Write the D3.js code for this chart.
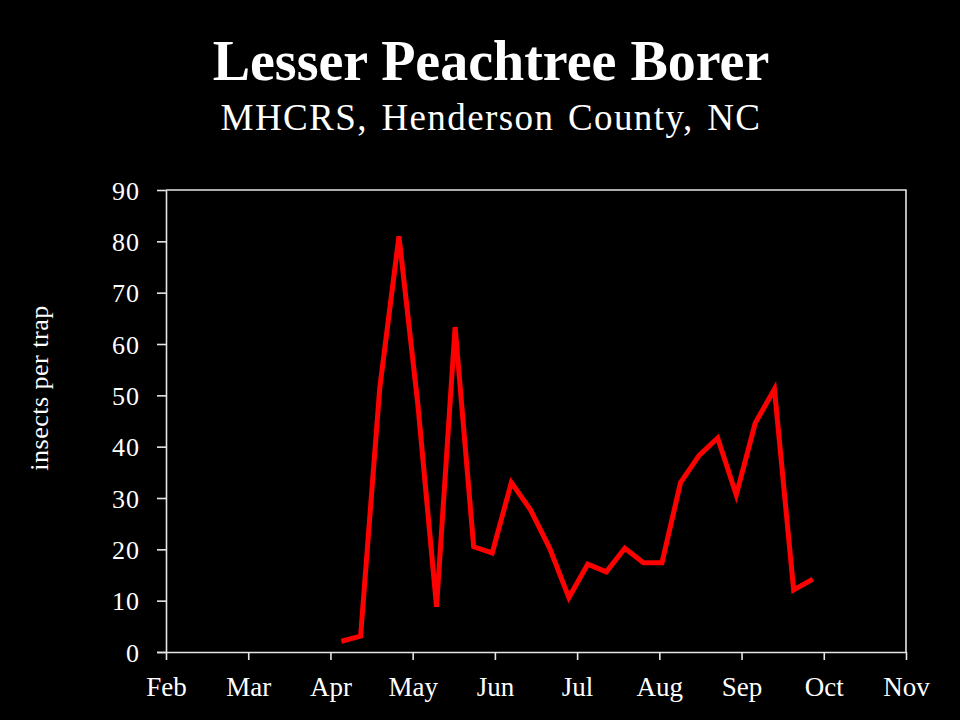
<!DOCTYPE html>
<html><head><meta charset="utf-8">
<script src="https://cdn.jsdelivr.net/npm/d3@7"></script>
<style>
html,body{margin:0;padding:0;background:#000;}
svg{display:block;}
text{font-family:"Liberation Serif","DejaVu Serif",serif;fill:#fff;}
</style></head>
<body>
<script>
const months = ["Feb","Mar","Apr","May","Jun","Jul","Aug","Sep","Oct","Nov"];
const dates = ["04-05","04-12","04-19","04-26","05-03","05-10","05-17","05-24","05-31",
  "06-07","06-14","06-21","06-28","07-05","07-12","07-19","07-26","08-02","08-09",
  "08-16","08-23","08-30","09-06","09-13","09-20","09-27"];
const values = [2.1,3.1,51.5,81,48,8.8,63.3,20.5,19.3,33,27.7,20.2,10.6,17.1,15.6,20.2,17.4,17.4,33,38.3,41.7,30.6,44.6,51.2,12.1,14.2];
const yTicks = [0,10,20,30,40,50,60,70,80,90];

const W = 960, H = 720;
const m = {left:166, right:906, top:190, bottom:652};
const svg = d3.select("body").append("svg").attr("width",W).attr("height",H)
  .style("background","#000");

const daysIn = [31,28,31,30,31,30,31,31,30,31,30,31];
function monthPos(s){
  const [mm,dd] = s.split("-").map(Number);
  return (mm-2) + (dd-1)/daysIn[mm-1];
}
const x = d3.scaleLinear().domain([0, months.length-1]).range([m.left, m.right]);
const y = d3.scaleLinear().domain([0, 90]).range([m.bottom, m.top]);

svg.append("path")
  .attr("d", `M${m.left},${y(90)}H${x(9)}V${y(0)}`)
  .attr("fill","none").attr("stroke","#e6e6e6").attr("stroke-width",1.6);

const yAxis = svg.append("g").attr("transform",`translate(${m.left},0)`)
  .call(d3.axisLeft(y).tickValues(yTicks).tickSize(9).tickPadding(17).tickSizeOuter(0));
yAxis.select(".domain").attr("stroke","#e6e6e6").attr("stroke-width",1.6);
yAxis.selectAll(".tick line").attr("stroke","#e6e6e6").attr("stroke-width",1.6);
yAxis.selectAll(".tick text").attr("fill","#fff").style("font-size","26px")
  .style("letter-spacing","1px")
  .style("font-family","'Liberation Serif',serif").attr("dy","0.35em");

const xAxis = svg.append("g").attr("transform",`translate(0,${m.bottom})`)
  .call(d3.axisBottom(x).tickValues(d3.range(months.length)).tickFormat(i=>months[i])
    .tickSize(8).tickPadding(17).tickSizeOuter(0));
xAxis.select(".domain").attr("stroke","#e6e6e6").attr("stroke-width",1.6)
  .attr("d",`M${m.left-9},0.5H${m.right}`);
xAxis.selectAll(".tick line").attr("stroke","#e6e6e6").attr("stroke-width",1.6);
xAxis.selectAll(".tick text").attr("fill","#fff").style("font-size","27px")
  .style("font-family","'Liberation Serif',serif");

const data = dates.map((d,i)=>({x:monthPos(d), v:values[i]}));
svg.append("path").datum(data)
  .attr("fill","none").attr("stroke","#ff0000").attr("stroke-width",5)
  .attr("stroke-linejoin","miter").attr("stroke-linecap","butt")
  .attr("d", d3.line().x(d=>x(d.x)).y(d=>y(d.v)));

svg.append("text").attr("x",491).attr("y",80).attr("text-anchor","middle")
  .style("font-size","56px").style("font-weight","bold").text("Lesser Peachtree Borer");
svg.append("text").attr("x",491).attr("y",130).attr("text-anchor","middle")
  .style("font-size","37px").style("letter-spacing","1.4px").style("word-spacing","3px")
  .text("MHCRS, Henderson County, NC");

svg.append("text").attr("transform","translate(48,388) rotate(-90)")
  .attr("text-anchor","middle").style("font-size","26px").style("letter-spacing","0.5px")
  .text("insects per trap");
</script>
</body></html>
